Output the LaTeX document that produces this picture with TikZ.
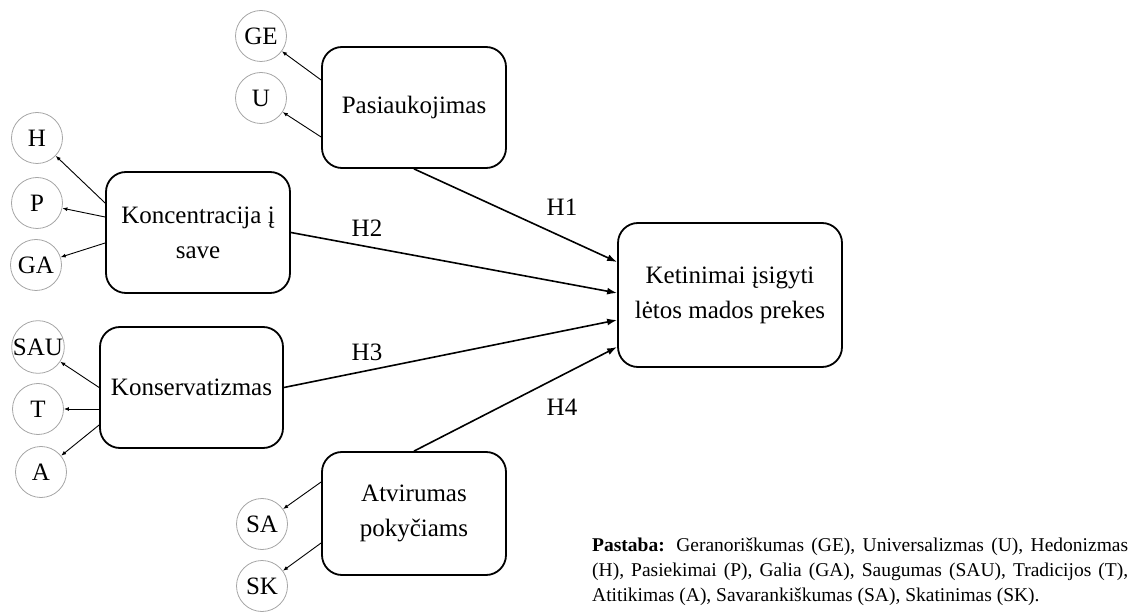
\documentclass[tikz,border=0pt]{standalone}
\usepackage{fontspec}
\setmainfont{Liberation Serif}
\usetikzlibrary{arrows.meta}
\begin{document}
\begin{tikzpicture}[x=1pt,y=-1pt,
  box/.style={draw, line width=1.8pt, rounded corners=20pt, align=center,
    font=\fontsize{25}{35}\selectfont, inner sep=0pt},
  item/.style={circle, draw=black!35, line width=0.8pt, minimum size=51pt,
    inner sep=0pt, font=\fontsize{25}{30}\selectfont},
  sub/.style={line width=0.9pt, -{Latex[length=5pt,width=4pt]}},
  main/.style={line width=1.6pt, -{Latex[length=10pt,width=7pt]}},
  lab/.style={font=\fontsize{25}{30}\selectfont, inner sep=0pt}]
\useasboundingbox (0,0) rectangle (1136,612);

% main boxes
\node[box, minimum width=184pt, minimum height=121pt] (pas) at (414,107.5) {Pasiaukojimas};
\node[box, minimum width=184pt, minimum height=121pt] (kon) at (198,232.5) {Koncentracija į\\save};
\node[box, minimum width=183pt, minimum height=121pt] (kons) at (191.5,387.5) {Konservatizmas};
\node[box, minimum width=184pt, minimum height=123pt] (atv) at (414,513.5) {Atvirumas\\pokyčiams};
\node[box, minimum width=224pt, minimum height=144pt] (ket) at (730,295) {Ketinimai įsigyti\\lėtos mados prekes};

% item circles
\node[item] (cGE) at (261,36) {GE};
\node[item] (cU) at (261,98) {U};
\node[item] (cH) at (37,138) {H};
\node[item] (cP) at (37,203) {P};
\node[item] (cGA) at (36,265) {GA};
\node[item] (cSAU) at (38,347) {SAU};
\node[item] (cT) at (38,409) {T};
\node[item] (cA) at (41,472) {A};
\node[item] (cSA) at (262,524) {SA};
\node[item] (cSK) at (262,586) {SK};

% item arrows
\draw[sub] ([yshift=27.5pt]pas.west) -- (cGE);
\draw[sub] ([yshift=-29.5pt]pas.west) -- (cU);
\draw[sub] ([yshift=29.5pt]kon.west) -- (cH);
\draw[sub] ([yshift=15.5pt]kon.west) -- (cP);
\draw[sub] ([yshift=-10.5pt]kon.west) -- (cGA);
\draw[sub] ([yshift=0pt]kons.west) -- (cSAU);
\draw[sub] ([yshift=-21.5pt]kons.west) -- (cT);
\draw[sub] ([yshift=-37.5pt]kons.west) -- (cA);
\draw[sub] ([yshift=31.5pt]atv.west) -- (cSA);
\draw[sub] ([yshift=-29.5pt]atv.west) -- (cSK);

% hypothesis arrows
\draw[main] (pas.south) -- ([yshift=33pt]ket.west);
\draw[main] (kon.east) -- ([yshift=2pt]ket.west);
\draw[main] (kons.east) -- ([yshift=-25pt]ket.west);
\draw[main] (atv.north) -- ([yshift=-52pt]ket.west);

\node[lab] (h1) at (562,207) {H1};
\node[lab] (h2) at (367,228) {H2};
\node[lab] (h3) at (367,352) {H3};
\node[lab] (h4) at (562,407) {H4};

% note
\node[anchor=north west, inner sep=0pt, text width=536pt, align=justify,
  font=\fontsize{19.5}{25}\selectfont] (note) at (592,538)
  {\textbf{Pastaba:} Geranoriškumas (GE), Universalizmas (U), Hedonizmas\linebreak
   (H), Pasiekimai (P), Galia (GA), Saugumas (SAU), Tradicijos (T),\linebreak
   Atitikimas (A), Savarankiškumas (SA), Skatinimas (SK).};
\end{tikzpicture}
\end{document}
